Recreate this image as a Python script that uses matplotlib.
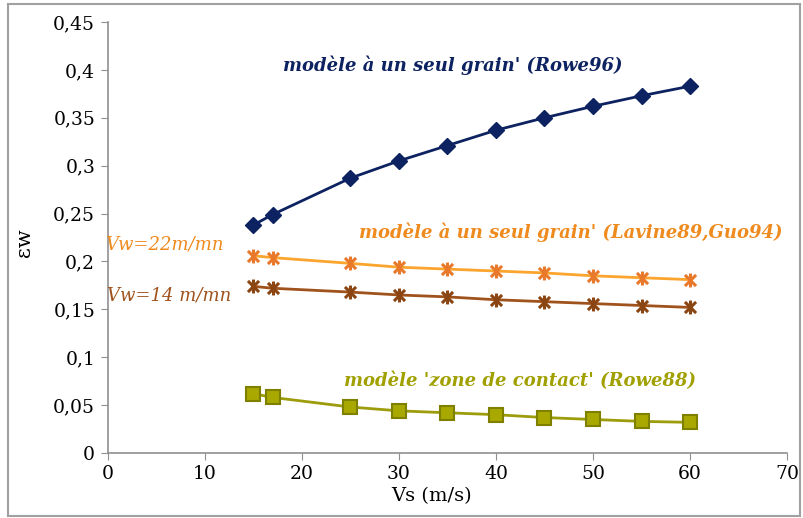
import numpy as np
import matplotlib.pyplot as plt
from matplotlib.patches import Rectangle
from matplotlib.path import Path

# vitesse de la meule Vs (m/s)
vs = [15, 17, 25, 30, 35, 40, 45, 50, 55, 60]

# partition d'energie epsilon_w
rowe96 = [0.238, 0.249, 0.287, 0.305, 0.321, 0.337, 0.350, 0.362, 0.373, 0.383]
vw22 = [0.206, 0.204, 0.198, 0.194, 0.192, 0.190, 0.188, 0.185, 0.183, 0.181]
vw14 = [0.174, 0.172, 0.168, 0.165, 0.163, 0.160, 0.158, 0.156, 0.154, 0.152]
rowe88 = [0.062, 0.058, 0.048, 0.044, 0.042, 0.040, 0.037, 0.035, 0.033, 0.032]

xticks = [0, 10, 20, 30, 40, 50, 60, 70]
yticks = [0, 0.05, 0.1, 0.15, 0.2, 0.25, 0.3, 0.35, 0.4, 0.45]
ylabels = ['0', '0,05', '0,1', '0,15', '0,2', '0,25', '0,3', '0,35', '0,4', '0,45']

plt.rcParams['font.family'] = ['DejaVu Serif']

# marqueur etoile facon Excel : croix + trait vertical
star = Path([(-1, -1), (1, 1), (-1, 1), (1, -1), (0, -1.25), (0, 1.25)],
            [Path.MOVETO, Path.LINETO, Path.MOVETO, Path.LINETO, Path.MOVETO, Path.LINETO])

fig = plt.figure(figsize=(8.04, 5.18), dpi=100)
ax = fig.add_axes([0.134, 0.1255, 0.845, 0.832])

navy = '#0d2260'
orange = '#fba42e'
orange_m = '#e8782a'
brown = '#a0521c'
olive = '#9c9c0c'

ax.plot(vs, rowe96, color=navy, lw=2, marker='D', ms=8, mfc=navy, mec=navy)
ax.plot(vs, vw22, color=orange, lw=2, marker=star, ms=10, mec=orange_m, mew=2.2)
ax.plot(vs, vw14, color=brown, lw=2, marker=star, ms=10, mec='#8b4513', mew=2.2)
ax.plot(vs, rowe88, color=olive, lw=2, marker='s', ms=10, mfc='#a8a800', mec='#7f7f00', mew=1.5)

ax.set_xlim(0, 70)
ax.set_ylim(0, 0.45)
ax.set_xticks(xticks)
ax.set_yticks(yticks)
ax.set_yticklabels(ylabels)
ax.tick_params(labelsize=13.5, length=5, color='#909090', direction='out', pad=4)
for s in ['top', 'right']:
    ax.spines[s].set_visible(False)
for s in ['left', 'bottom']:
    ax.spines[s].set_color('#909090')
    ax.spines[s].set_linewidth(1.2)

ax.set_xlabel('Vs (m/s)', fontsize=14)
ax.xaxis.set_label_coords(0.477, -0.078)
fig.text(0.03, 0.531, 'εw', rotation=90, fontsize=15, ha='center', va='center')

ax.text(35.6, 0.405, "modèle à un seul grain' (Rowe96)", color=navy, fontsize=13,
        style='italic', weight='bold', ha='center', va='center')
ax.text(47.7, 0.230, "modèle à un seul grain' (Lavine89,Guo94)", color='#ef8b1e', fontsize=13,
        style='italic', weight='bold', ha='center', va='center')
ax.text(-0.3, 0.218, 'Vw=22m/mn', color='#ef8b1e', fontsize=13, style='italic',
        ha='left', va='center', clip_on=False)
ax.text(-0.1, 0.164, 'Vw=14 m/mn', color=brown, fontsize=13, style='italic',
        ha='left', va='center', clip_on=False)
ax.text(42.5, 0.075, "modèle 'zone de contact' (Rowe88)", color='#a0a000', fontsize=13,
        style='italic', weight='bold', ha='center', va='center')

fig.patches.append(Rectangle((0.01, 0.004), 0.985, 0.988, transform=fig.transFigure,
                             fill=False, edgecolor='#a0a0a0', lw=1.5))

fig.savefig('out.png', dpi=100)
